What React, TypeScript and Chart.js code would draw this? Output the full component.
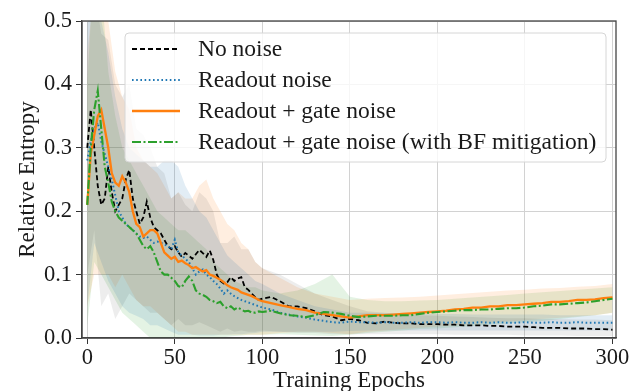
import React, { useEffect, useRef } from "react";
import { Chart, registerables } from "chart.js";

Chart.register(...registerables);

const FONT = "'Liberation Serif', 'Times New Roman', serif";

// ---------- data ----------
const xTickValues = [0, 50, 100, 150, 200, 250, 300];
const yTickValues = [0, 0.1, 0.2, 0.3, 0.4, 0.5];

const lineEpochs = [
  0, 2, 4, 6, 8, 10, 12, 14, 16, 18, 20, 22, 24, 26, 28, 30, 32, 34, 36, 38, 40, 42, 44, 46, 48, 50,
  52, 54, 56, 58, 60, 62, 64, 66, 68, 70, 72, 74, 76, 78, 80, 82, 84, 86, 88, 90, 92, 94, 96, 98, 100,
  105, 110, 115, 120, 125, 130, 135, 140, 145, 150, 155, 160, 165, 170, 175, 180, 185, 190, 195, 200,
  205, 210, 215, 220, 225, 230, 235, 240, 245, 250, 255, 260, 265, 270, 275, 280, 285, 290, 295, 300,
];

const noNoise = [
  0.30, 0.36, 0.30, 0.24, 0.21, 0.22, 0.27, 0.23, 0.20, 0.21, 0.22, 0.25, 0.265, 0.22, 0.20, 0.18,
  0.19, 0.215, 0.19, 0.175, 0.17, 0.165, 0.155, 0.145, 0.14, 0.145, 0.135, 0.128, 0.134, 0.13, 0.125,
  0.132, 0.139, 0.134, 0.128, 0.138, 0.123, 0.1, 0.09, 0.086, 0.088, 0.096, 0.09, 0.094, 0.096, 0.08,
  0.076, 0.07, 0.064, 0.06, 0.062,
  0.065, 0.058, 0.05, 0.05, 0.047, 0.042, 0.036, 0.034, 0.028, 0.03, 0.028, 0.024, 0.023, 0.026, 0.024,
  0.023, 0.023, 0.022, 0.022, 0.022, 0.021, 0.021, 0.02, 0.02, 0.02, 0.019, 0.019, 0.018, 0.018, 0.018,
  0.017, 0.016, 0.016, 0.016, 0.015, 0.015, 0.015, 0.014, 0.014, 0.013,
];

const readoutNoise = [
  0.28, 0.31, 0.33, 0.34, 0.31, 0.29, 0.27, 0.25, 0.225, 0.2, 0.19, 0.18, 0.175, 0.17, 0.165, 0.16,
  0.158, 0.16, 0.155, 0.15, 0.152, 0.15, 0.148, 0.145, 0.14, 0.155, 0.135, 0.13, 0.125, 0.12, 0.11,
  0.1, 0.105, 0.108, 0.1, 0.096, 0.09, 0.085, 0.078, 0.07, 0.075, 0.07, 0.066, 0.063, 0.06, 0.058,
  0.056, 0.054, 0.052, 0.05, 0.048,
  0.045, 0.04, 0.037, 0.034, 0.032, 0.029, 0.027, 0.025, 0.024, 0.026, 0.025, 0.025, 0.024, 0.025,
  0.024, 0.024, 0.025, 0.024, 0.025, 0.025, 0.024, 0.025, 0.024, 0.024, 0.025, 0.024, 0.025, 0.024,
  0.024, 0.025, 0.024, 0.024, 0.025, 0.024, 0.024, 0.025, 0.024, 0.024, 0.024, 0.024,
];

const gateNoise = [
  0.21, 0.29, 0.32, 0.35, 0.36, 0.33, 0.3, 0.26, 0.245, 0.24, 0.255, 0.245, 0.23, 0.2, 0.18, 0.175,
  0.16, 0.165, 0.17, 0.17, 0.165, 0.15, 0.135, 0.13, 0.125, 0.128, 0.12, 0.122, 0.118, 0.115, 0.11,
  0.112, 0.108, 0.105, 0.107, 0.1, 0.098, 0.095, 0.092, 0.088, 0.083, 0.08, 0.078, 0.076, 0.072, 0.07,
  0.068, 0.066, 0.063, 0.06, 0.058,
  0.055, 0.052, 0.049, 0.046, 0.044, 0.04, 0.038, 0.036, 0.034, 0.032, 0.034, 0.036, 0.036, 0.036,
  0.037, 0.038, 0.039, 0.04, 0.041, 0.042, 0.043, 0.045, 0.046, 0.048, 0.048, 0.05, 0.05, 0.052, 0.052,
  0.053, 0.054, 0.055, 0.057, 0.057, 0.058, 0.06, 0.06, 0.061, 0.063, 0.064,
];

const mitigated = [
  0.21, 0.30, 0.36, 0.39, 0.33, 0.27, 0.245, 0.215, 0.2, 0.19, 0.185, 0.18, 0.175, 0.17, 0.165, 0.155,
  0.145, 0.14, 0.145, 0.135, 0.12, 0.105, 0.1, 0.1, 0.095, 0.09, 0.082, 0.08, 0.09, 0.097, 0.09, 0.075,
  0.07, 0.068, 0.065, 0.06, 0.058, 0.055, 0.057, 0.05, 0.047, 0.05, 0.045, 0.048, 0.045, 0.042, 0.043,
  0.04, 0.04, 0.042, 0.041,
  0.043, 0.039, 0.036, 0.035, 0.033, 0.036, 0.041, 0.04, 0.038, 0.035, 0.033, 0.034, 0.035, 0.035,
  0.035, 0.036, 0.036, 0.038, 0.04, 0.041, 0.042, 0.043, 0.044, 0.044, 0.045, 0.045, 0.046, 0.047,
  0.047, 0.048, 0.05, 0.051, 0.053, 0.053, 0.054, 0.055, 0.056, 0.058, 0.06, 0.062,
];

const bandEpochs = [
  0, 4, 8, 12, 16, 20, 24, 28, 32, 36, 40, 44, 48, 52, 56, 60, 64, 68, 72, 76, 80, 84, 88, 92, 96, 100,
  110, 120, 130, 140, 150, 160, 170, 180, 190, 200, 210, 220, 230, 240, 250, 260, 270, 280, 290, 300,
];

const noNoiseUpper = [
  0.5, 0.55, 0.48, 0.47, 0.4, 0.38, 0.4, 0.33, 0.32, 0.3, 0.27, 0.26, 0.22, 0.23, 0.21, 0.2, 0.23, 0.22,
  0.2, 0.15, 0.15, 0.16, 0.14, 0.14, 0.12, 0.11,
  0.1, 0.085, 0.07, 0.06, 0.05, 0.042, 0.04, 0.038, 0.036, 0.035, 0.034, 0.033, 0.032, 0.031, 0.031,
  0.03, 0.03, 0.029, 0.029, 0.028,
];
const noNoiseLower = [
  0.1, 0.17, 0.05, 0.07, 0.03, 0.05, 0.07, 0.06, 0.05, 0.04, 0.04, 0.03, 0.02, 0.03, 0.02, 0.02, 0.025,
  0.02, 0.015, 0.01, 0.015, 0.01, 0.012, 0.01, 0.01, 0.012,
  0.01, 0.008, 0.008, 0.006, 0.006, 0.006, 0.006, 0.006, 0.006, 0.006, 0.005, 0.005, 0.005, 0.005,
  0.004, 0.004, 0.004, 0.003, 0.003, 0.003,
];

const readoutUpper = [
  0.55, 0.52, 0.5, 0.45, 0.38, 0.33, 0.3, 0.29, 0.28, 0.27, 0.27, 0.28, 0.28, 0.27, 0.24, 0.22, 0.2,
  0.19, 0.17, 0.15, 0.13, 0.12, 0.11, 0.1, 0.09, 0.085,
  0.07, 0.06, 0.05, 0.045, 0.04, 0.04, 0.039, 0.039, 0.038, 0.038, 0.038, 0.037, 0.037, 0.037, 0.037,
  0.037, 0.036, 0.036, 0.036, 0.036,
];
const readoutLower = [
  0.05, 0.15, 0.12, 0.09, 0.07, 0.05, 0.04, 0.035, 0.03, 0.02, 0.02, 0.015, 0.01, 0.005, 0.005, 0.005,
  0.004, 0.004, 0.004, 0.005, 0.005, 0.006, 0.006, 0.007, 0.008, 0.01,
  0.01, 0.01, 0.01, 0.01, 0.011, 0.012, 0.012, 0.012, 0.012, 0.012, 0.012, 0.012, 0.012, 0.012, 0.012,
  0.012, 0.012, 0.012, 0.012, 0.012,
];

const gateUpper = [
  0.45, 0.55, 0.6, 0.5, 0.42, 0.38, 0.36, 0.3, 0.28, 0.27, 0.26, 0.24, 0.22, 0.23, 0.22, 0.22, 0.24,
  0.25, 0.22, 0.2, 0.18, 0.17, 0.15, 0.14, 0.12, 0.11,
  0.095, 0.08, 0.07, 0.065, 0.06, 0.062, 0.063, 0.064, 0.065, 0.067, 0.069, 0.071, 0.073, 0.075, 0.076,
  0.078, 0.079, 0.081, 0.082, 0.085,
];
const gateLower = [
  0.05, 0.1, 0.1, 0.1, 0.08, 0.1, 0.08, 0.06, 0.05, 0.05, 0.04, 0.03, 0.02, 0.01, 0.01, 0.005, 0.005,
  0.005, 0.005, 0.005, 0.005, 0.005, 0.005, 0.005, 0.005, 0.005,
  0.008, 0.01, 0.01, 0.008, 0.006, 0.01, 0.012, 0.014, 0.016, 0.018, 0.02, 0.022, 0.024, 0.026, 0.028,
  0.03, 0.032, 0.034, 0.036, 0.04,
];

const mitigatedUpper = [
  0.4, 0.6, 0.55, 0.42, 0.35, 0.3, 0.28, 0.26, 0.24, 0.22, 0.2, 0.19, 0.18, 0.17, 0.17, 0.16, 0.15,
  0.14, 0.12, 0.11, 0.1, 0.09, 0.085, 0.08, 0.08, 0.075,
  0.07, 0.075, 0.085, 0.1, 0.065, 0.06, 0.058, 0.058, 0.059, 0.06, 0.062, 0.064, 0.066, 0.068, 0.07,
  0.072, 0.074, 0.076, 0.078, 0.08,
];
const mitigatedLower = [
  0.02, 0.12, 0.1, 0.08, 0.06, 0.04, 0.03, 0.02, 0.01, 0.0, 0.0, 0.0, 0.0, 0.0, 0.0, 0.0, 0.0, 0.0,
  0.0, 0.0, 0.002, 0.003, 0.004, 0.005, 0.005, 0.005,
  0.006, 0.005, 0.004, 0.003, 0.005, 0.008, 0.01, 0.012, 0.014, 0.015, 0.017, 0.019, 0.021, 0.023,
  0.025, 0.027, 0.03, 0.033, 0.036, 0.04,
];

const seriesLabels = [
  "No noise",
  "Readout noise",
  "Readout + gate noise",
  "Readout + gate noise (with BF mitigation)",
];

// ---------- styles ----------
const SERIES = [
  { label: seriesLabels[0], values: noNoise, upper: noNoiseUpper, lower: noNoiseLower, color: "#000000", band: "rgba(0,0,0,0.07)", dash: [5, 3], width: 1.8, order: 4 },
  { label: seriesLabels[1], values: readoutNoise, upper: readoutUpper, lower: readoutLower, color: "#1f77b4", band: "rgba(31,119,180,0.13)", dash: [1.6, 2.6], width: 2, order: 3 },
  { label: seriesLabels[2], values: gateNoise, upper: gateUpper, lower: gateLower, color: "#ff7f0e", band: "rgba(255,127,14,0.13)", dash: [], width: 2.3, order: 2 },
  { label: seriesLabels[3], values: mitigated, upper: mitigatedUpper, lower: mitigatedLower, color: "#2ca02c", band: "rgba(44,160,44,0.13)", dash: [9, 2.5, 2, 2.5], width: 2.1, order: 1 },
];

const pts = (xs: number[], ys: number[]) => xs.map((x, i) => ({ x, y: ys[i] }));

const framePlugin = {
  id: "frame",
  beforeDraw(chart: any) {
    const ctx = chart.ctx;
    ctx.save();
    ctx.fillStyle = "#ffffff";
    ctx.fillRect(0, 0, chart.width, chart.height);
    ctx.restore();
  },
  afterDatasetsDraw(chart: any) {
    const { ctx, chartArea: a } = chart;
    ctx.save();
    ctx.strokeStyle = "#444444";
    ctx.lineWidth = 1.3;
    ctx.strokeRect(a.left, a.top, a.right - a.left, a.bottom - a.top);
    ctx.restore();
  },
};

const legendPlugin = {
  id: "insideLegend",
  afterDraw(chart: any) {
    const { ctx, chartArea: a } = chart;
    const x0 = a.left + 43;
    const y0 = a.top + 12;
    const w = 481;
    const h = 129;
    ctx.save();
    ctx.beginPath();
    ctx.roundRect(x0, y0, w, h, 4);
    ctx.fillStyle = "rgba(255,255,255,0.8)";
    ctx.fill();
    ctx.strokeStyle = "#d6d6d6";
    ctx.lineWidth = 1;
    ctx.stroke();
    ctx.font = `23.5px ${FONT}`;
    ctx.textBaseline = "middle";
    ctx.textAlign = "left";
    SERIES.forEach((s, i) => {
      const cy = y0 + 16 + i * 31;
      ctx.beginPath();
      ctx.setLineDash(s.dash);
      ctx.strokeStyle = s.color;
      ctx.lineWidth = s.width;
      ctx.moveTo(x0 + 7, cy);
      ctx.lineTo(x0 + 55, cy);
      ctx.stroke();
      ctx.setLineDash([]);
      ctx.fillStyle = "#1a1a1a";
      ctx.fillText(s.label, x0 + 73, cy + 1);
    });
    ctx.restore();
  },
};

export default function App() {
  const ref = useRef<HTMLCanvasElement | null>(null);

  useEffect(() => {
    document.body.style.margin = "0";
    const canvas = ref.current;
    if (!canvas) return;

    const datasets: any[] = [];
    SERIES.forEach((s) => {
      datasets.push({
        label: s.label + " lower",
        data: pts(bandEpochs, s.lower),
        borderColor: "transparent",
        borderWidth: 0,
        pointRadius: 0,
        fill: false,
        order: 10,
      });
      datasets.push({
        label: s.label + " upper",
        data: pts(bandEpochs, s.upper),
        borderColor: "transparent",
        borderWidth: 0,
        pointRadius: 0,
        backgroundColor: s.band,
        fill: "-1",
        order: 10,
      });
    });
    SERIES.forEach((s) => {
      datasets.push({
        label: s.label,
        data: pts(lineEpochs, s.values),
        borderColor: s.color,
        borderWidth: s.width,
        borderDash: s.dash,
        pointRadius: 0,
        fill: false,
        tension: 0,
        order: s.order,
      });
    });

    const tickFont = { family: FONT, size: 22.5 };
    const titleFont = { family: FONT, size: 23 };

    const chart = new Chart(canvas, {
      type: "line",
      data: { datasets },
      plugins: [framePlugin, legendPlugin],
      options: {
        responsive: false,
        animation: false,
        events: [],
        layout: { padding: { left: 0, right: 15, top: 21, bottom: 0 } },
        plugins: {
          legend: { display: false },
          tooltip: { enabled: false },
        },
        scales: {
          x: {
            type: "linear",
            min: -3,
            max: 302,
            afterBuildTicks: (s: any) => {
              s.ticks = xTickValues.map((v) => ({ value: v }));
            },
            afterFit: (s: any) => {
              s.height = 53;
              s.paddingLeft = 0;
              s.paddingRight = 0;
            },
            ticks: {
              font: tickFont,
              color: "#1a1a1a",
              maxRotation: 0,
              autoSkip: false,
              padding: 1,
              callback: (v: any) => String(v),
            },
            grid: { color: "#d2d2d2", lineWidth: 1, tickColor: "#333333", tickLength: 6 },
            border: { color: "#444444", width: 1.3 },
            title: {
              display: true,
              text: "Training Epochs",
              font: titleFont,
              color: "#1a1a1a",
              padding: { top: 0, bottom: -4 },
            },
          },
          y: {
            type: "linear",
            min: 0,
            max: 0.5,
            afterBuildTicks: (s: any) => {
              s.ticks = yTickValues.map((v) => ({ value: v }));
            },
            afterFit: (s: any) => {
              s.width = 82;
              s.paddingTop = 0;
              s.paddingBottom = 0;
            },
            ticks: {
              font: tickFont,
              color: "#1a1a1a",
              padding: 4,
              callback: (v: any) => Number(v).toFixed(1),
            },
            grid: { color: "#d2d2d2", lineWidth: 1, tickColor: "#333333", tickLength: 6 },
            border: { color: "#444444", width: 1.3 },
            title: {
              display: true,
              text: "Relative Entropy",
              font: titleFont,
              color: "#1a1a1a",
              padding: { top: 14, bottom: 0 },
            },
          },
        },
      },
    });

    return () => chart.destroy();
  }, []);

  return <canvas ref={ref} width={631} height={391} style={{ display: "block" }} />;
}
